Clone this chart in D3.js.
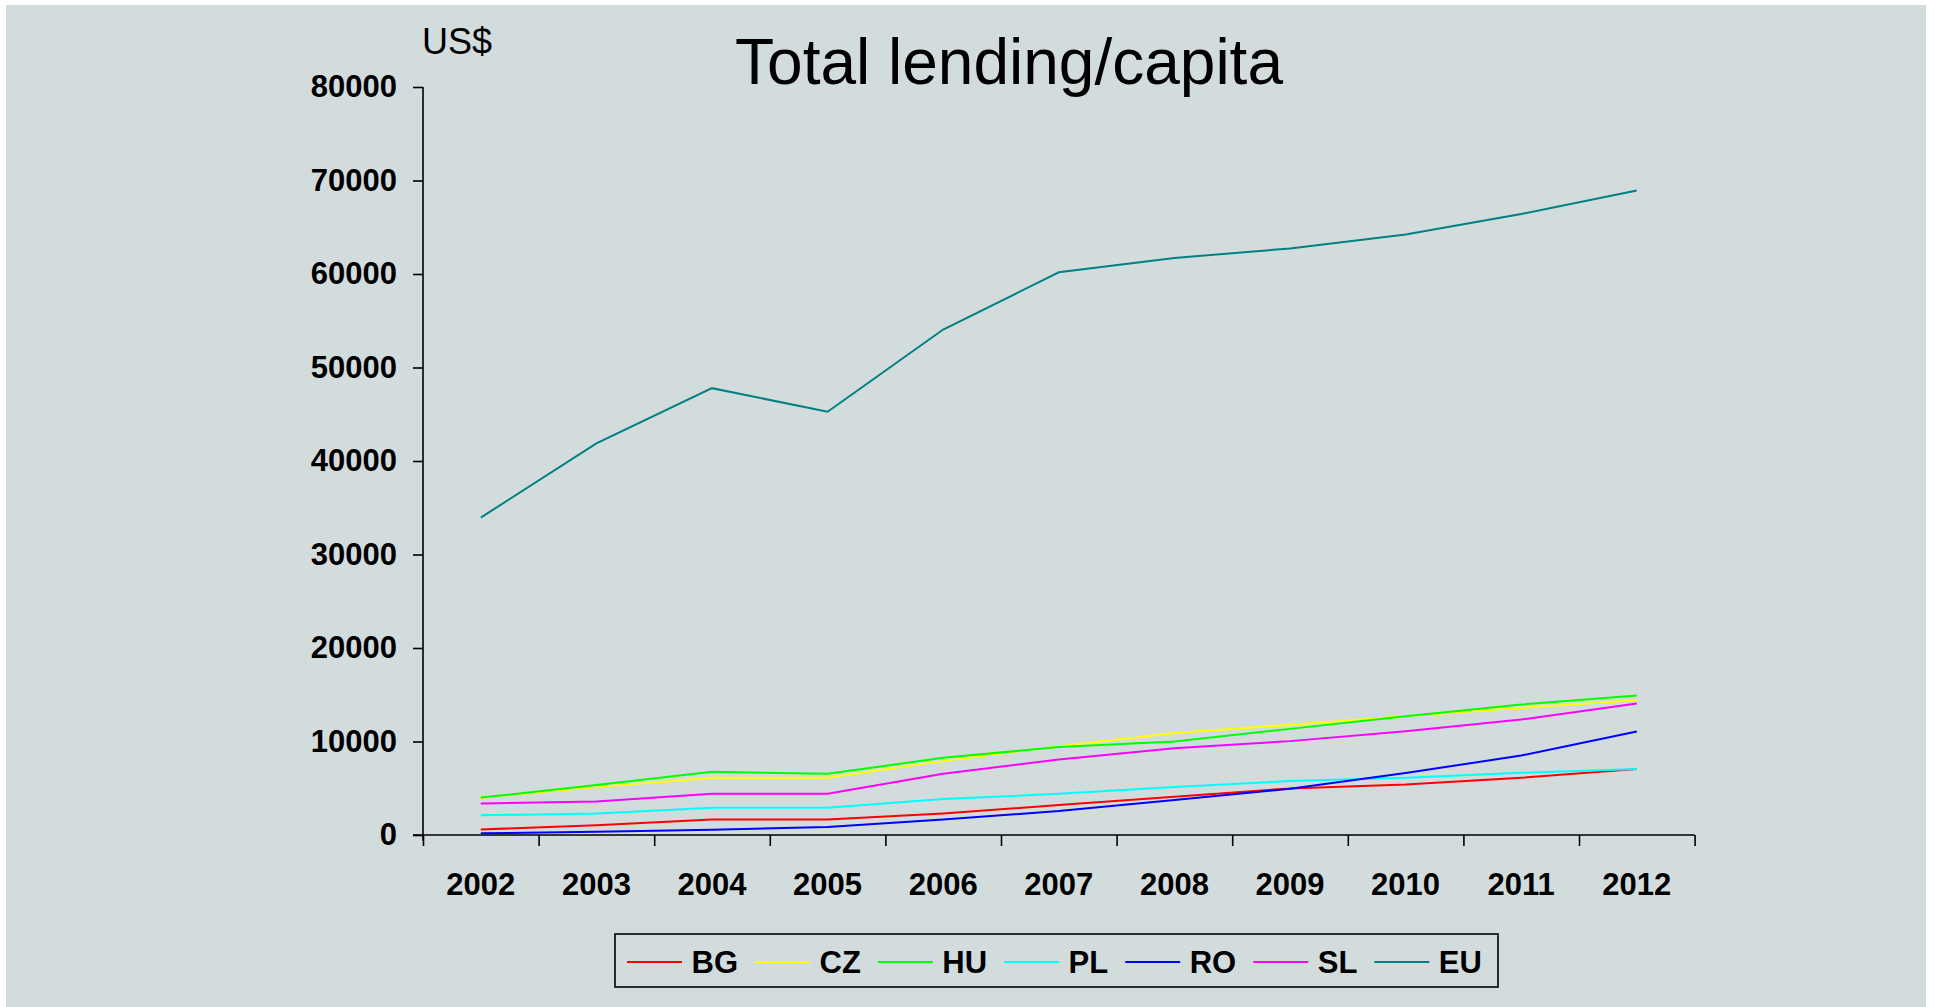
<!DOCTYPE html>
<html>
<head>
<meta charset="utf-8">
<script src="https://cdn.jsdelivr.net/npm/d3@7"></script>
<style>
  body { margin: 0; background: #ffffff; }
  text { font-family: "Liberation Sans", Arial, sans-serif; }
</style>
</head>
<body>
<div id="chart"></div>
<script>
// data
const years = ["2002", "2003", "2004", "2005", "2006", "2007", "2008", "2009", "2010", "2011", "2012"];
const yTicks = [0, 10000, 20000, 30000, 40000, 50000, 60000, 70000, 80000];

const BG = [600, 1030, 1670, 1670, 2310, 3200, 4100, 4980, 5410, 6120, 7050];
const CZ = [3990, 5120, 6120, 6120, 7900, 9500, 10900, 11800, 12700, 13600, 14450];
const HU = [4000, 5340, 6760, 6550, 8260, 9400, 10000, 11350, 12700, 13950, 14910];
const PL = [2100, 2310, 2920, 2920, 3840, 4410, 5140, 5770, 6120, 6650, 7050];
const RO = [180, 360, 570, 850, 1670, 2560, 3750, 4950, 6620, 8500, 11070];
const SL = [3380, 3590, 4410, 4410, 6550, 8080, 9280, 10040, 11100, 12350, 14060];
const EU = [33950, 41890, 47790, 45270, 54060, 60180, 61710, 62740, 64230, 66410, 68930];

const seriesNames = ["BG", "CZ", "HU", "PL", "RO", "SL", "EU"];
const seriesValues = [BG, CZ, HU, PL, RO, SL, EU];
const colors = ["#ff0000", "#ffff00", "#00ff00", "#00ffff", "#0000ff", "#ff00ff", "#008080"];

const W = 1935, H = 1007;
const plot = { left: 423, right: 1694.6, top: 87, bottom: 835 };

const svg = d3.select("#chart").append("svg")
  .attr("width", W)
  .attr("height", H);

svg.append("rect")
  .attr("x", 6).attr("y", 5)
  .attr("width", 1920).attr("height", 1002)
  .attr("fill", "#d3dcdc");

// scales
const x = d3.scaleBand()
  .domain(years)
  .range([plot.left, plot.right]);
const xEdge = d3.scaleLinear()
  .domain([0, years.length])
  .range([plot.left, plot.right]);
const y = d3.scaleLinear()
  .domain([0, 80000])
  .range([plot.bottom, plot.top]);

// y axis
const yAxis = svg.append("g")
  .attr("transform", "translate(" + plot.left + ",0)")
  .call(d3.axisLeft(y).tickValues(yTicks).tickSize(10).tickPadding(16).tickSizeOuter(0).tickFormat(d3.format("d")));
yAxis.select(".domain").remove();
yAxis.selectAll("line").attr("stroke", "#000").attr("stroke-width", 1.6);
yAxis.selectAll("text")
  .attr("font-size", 31).attr("font-weight", "bold").attr("fill", "#000")
  .style("font-family", "'Liberation Sans', Arial, sans-serif");
svg.append("line")
  .attr("x1", plot.left).attr("x2", plot.left)
  .attr("y1", plot.top).attr("y2", plot.bottom + 6)
  .attr("stroke", "#000").attr("stroke-width", 1.6);

// x axis: ticks between categories, labels at centers
const xTicks = svg.append("g")
  .attr("transform", "translate(0," + plot.bottom + ")")
  .call(d3.axisBottom(xEdge).tickValues(d3.range(years.length + 1)).tickSize(11).tickFormat(""));
xTicks.select(".domain").remove();
xTicks.selectAll("line").attr("stroke", "#000").attr("stroke-width", 1.6);
svg.append("line")
  .attr("x1", plot.left - 10).attr("x2", plot.right)
  .attr("y1", plot.bottom).attr("y2", plot.bottom)
  .attr("stroke", "#000").attr("stroke-width", 1.6);

const xLabels = svg.append("g")
  .attr("transform", "translate(0," + plot.bottom + ")")
  .call(d3.axisBottom(x).tickSize(0).tickPadding(38));
xLabels.select(".domain").remove();
xLabels.selectAll("text")
  .attr("font-size", 31).attr("font-weight", "bold").attr("fill", "#000")
  .style("font-family", "'Liberation Sans', Arial, sans-serif");

// lines
const line = d3.line()
  .x((d, i) => x(years[i]) + x.bandwidth() / 2)
  .y(d => y(d));

svg.append("g")
  .selectAll("path")
  .data(seriesValues)
  .enter()
  .append("path")
  .attr("d", d => line(d))
  .attr("fill", "none")
  .attr("stroke", (d, i) => colors[i])
  .attr("stroke-width", 2);

// titles
svg.append("text")
  .attr("x", 1009).attr("y", 84)
  .attr("text-anchor", "middle")
  .attr("font-size", 64)
  .attr("fill", "#000")
  .text("Total lending/capita");

svg.append("text")
  .attr("x", 422).attr("y", 54)
  .attr("font-size", 36)
  .attr("fill", "#000")
  .text("US$");

// legend
const legend = svg.append("g");
legend.append("rect")
  .attr("x", 615).attr("y", 934)
  .attr("width", 883).attr("height", 53)
  .attr("fill", "none")
  .attr("stroke", "#000")
  .attr("stroke-width", 1.6);

let lx = 627;
seriesNames.forEach((name, i) => {
  legend.append("line")
    .attr("x1", lx).attr("x2", lx + 55)
    .attr("y1", 962).attr("y2", 962)
    .attr("stroke", colors[i])
    .attr("stroke-width", 2);
  const t = legend.append("text")
    .attr("x", lx + 64.5).attr("y", 973)
    .attr("font-size", 31)
    .attr("font-weight", "bold")
    .attr("fill", "#000")
    .text(name);
  lx += 64.5 + t.node().getComputedTextLength() + 17;
});
</script>
</body>
</html>
